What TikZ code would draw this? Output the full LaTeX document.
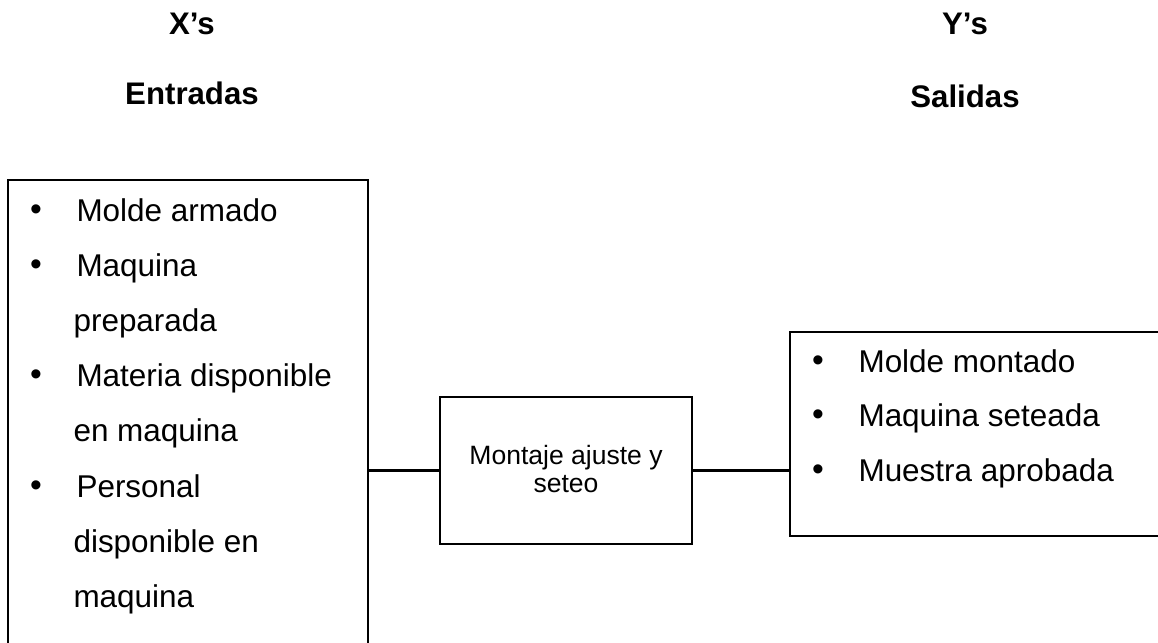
\documentclass[tikz,border=0pt]{standalone}
\usepackage{fontspec}
\setmainfont{Liberation Sans}
\usetikzlibrary{fit}
\begin{document}
\begin{tikzpicture}[x=0.375pt,y=-0.375pt,
  box/.style={draw,line width=0.8pt,rectangle,inner sep=0pt},
  wire/.style={line width=0.8pt},
  head/.style={anchor=base,inner sep=0pt,font=\fontsize{11.7}{14}\selectfont\bfseries},
  item/.style={anchor=base west,inner sep=0pt,font=\fontsize{11.8}{14}\selectfont},
  dot/.style={anchor=base,inner sep=0pt,font=\fontsize{12.6}{14}\selectfont},
  small/.style={anchor=base,inner sep=0pt,font=\fontsize{9.95}{12}\selectfont}]
\useasboundingbox (0,0) rectangle (1158,643);
\clip (0,0) rectangle (1158,643);

% column headings
\node[head] (xs) at (192,35) {X’s};
\node[head] (ent) at (192,105) {Entradas};
\node[head] (ys) at (965,35) {Y’s};
\node[head] (sal) at (965,108) {Salidas};

% boxes
\node[box,fit={(8,180) (368,720)}] (inbox) {};
\node[box,fit={(440,397) (692,544)}] (proc) {};
\node[box,fit={(790,332) (1220,536)}] (outbox) {};

% inputs
\node[dot] (b1) at (36,221) {•};
\node[item] (i1) at (76,222) {Molde armado};
\node[dot] (b2) at (36,276) {•};
\node[item] (i2) at (76,277) {Maquina};
\node[item] (i2b) at (73,332) {preparada};
\node[dot] (b3) at (36,386) {•};
\node[item] (i3) at (76,387) {Materia disponible};
\node[item] (i3b) at (73,442) {en maquina};
\node[dot] (b4) at (36,497) {•};
\node[item] (i4) at (76,498) {Personal};
\node[item] (i4b) at (73,553) {disponible en};
\node[item] (i4c) at (73,608) {maquina};

% process
\node[small] (p1) at (566,465) {Montaje ajuste y};
\node[small] (p2) at (566,493) {seteo};

% outputs
\node[dot] (c1) at (818,372) {•};
\node[item] (o1) at (858,373) {Molde montado};
\node[dot] (c2) at (818,426) {•};
\node[item] (o2) at (858,427) {Maquina seteada};
\node[dot] (c3) at (818,481) {•};
\node[item] (o3) at (858,482) {Muestra aprobada};

% connectors
\draw[wire] (proc.west) -- (proc.west -| inbox.east);
\draw[wire] (proc.east) -- (proc.east -| outbox.west);
\end{tikzpicture}
\end{document}
